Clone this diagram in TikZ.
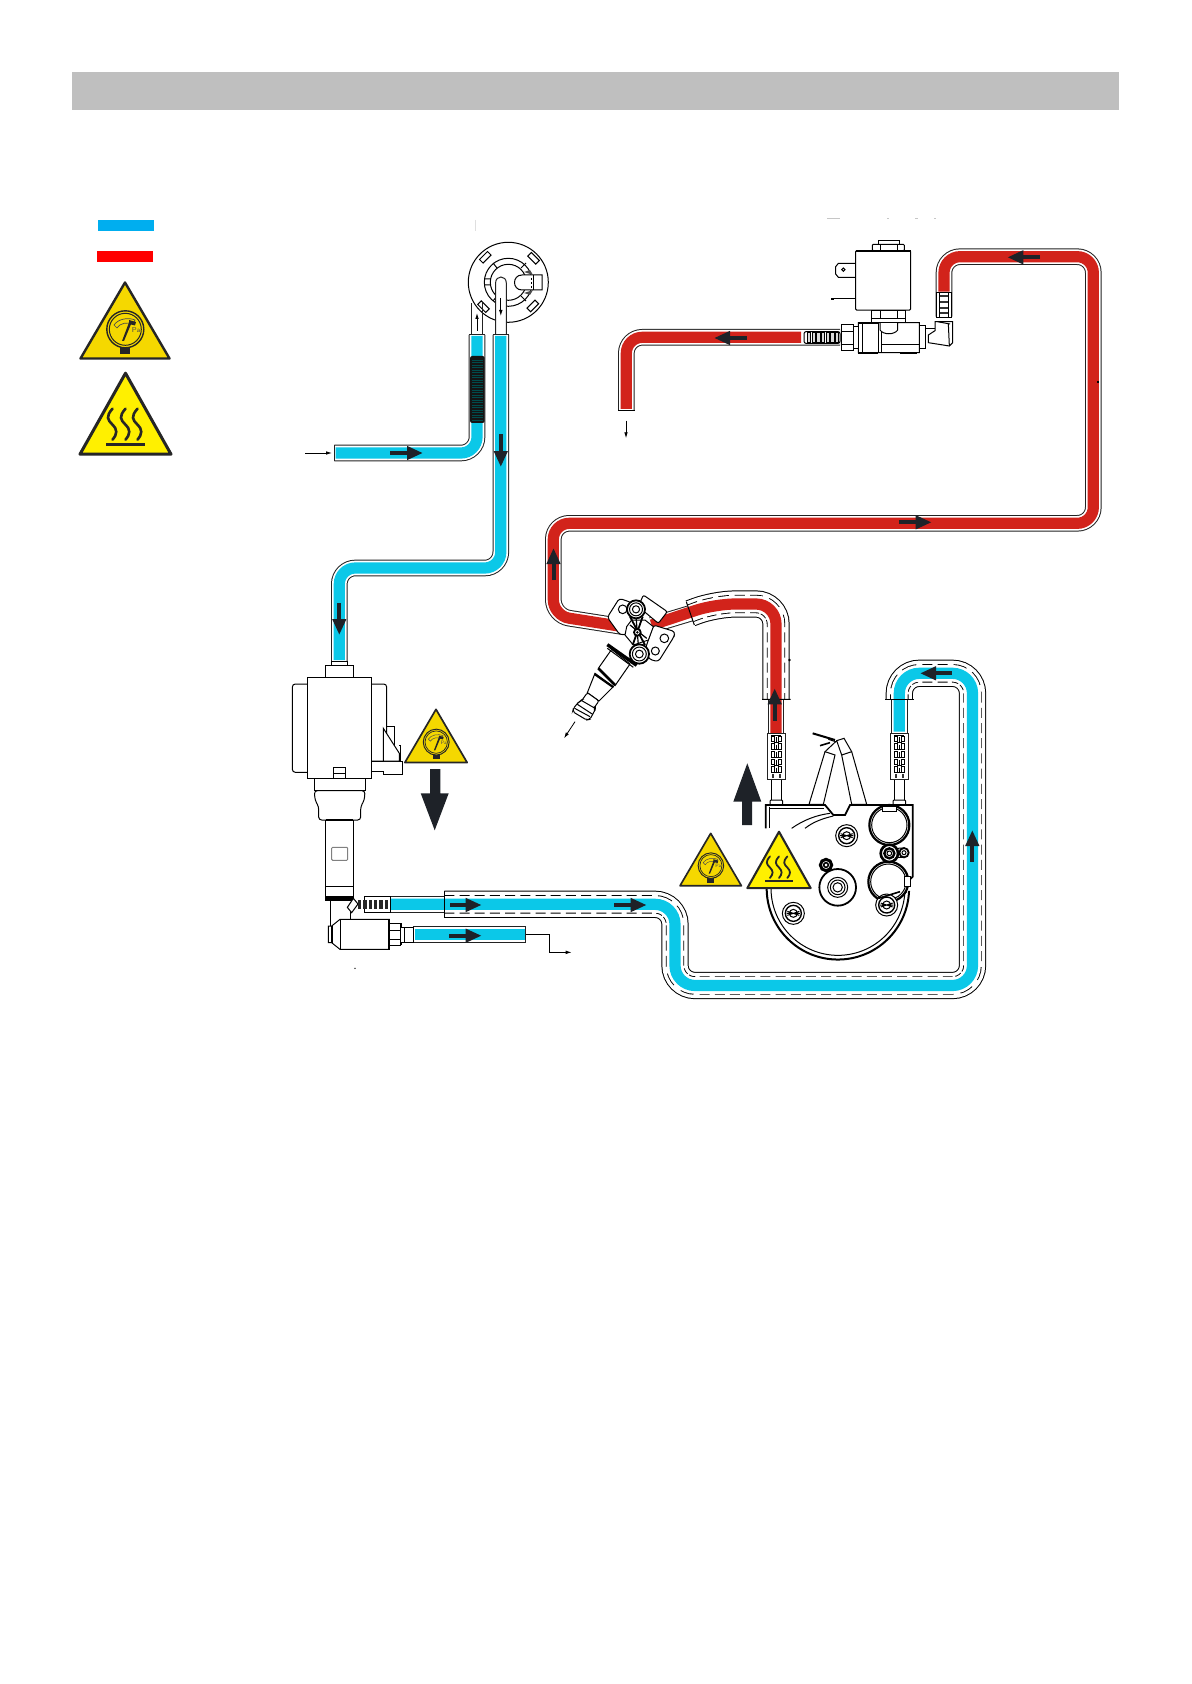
\documentclass[tikz,border=0pt]{standalone}
\usetikzlibrary{arrows.meta}
\definecolor{barg}{HTML}{BFBFBF}
\definecolor{legblue}{HTML}{00AEEF}
\definecolor{legred}{HTML}{FF0000}
\definecolor{pipeblue}{HTML}{0BC8E8}
\definecolor{pipered}{HTML}{D2231B}
\definecolor{gaugey}{HTML}{F5D800}
\definecolor{heaty}{HTML}{FFF000}
\definecolor{dark}{HTML}{1E2228}
\definecolor{lineg}{HTML}{222222}
\tikzset{
 zoomscope/.style={shift={#1},x=0.16667pt,y=-0.16667pt},
 thinl/.style={draw=black,line width=0.5pt},
 thick2/.style={draw=black,line width=0.9pt},
 whitefill/.style={fill=white},
 flow/.style={draw=dark,fill=dark,line width=2pt,-{Triangle[length=8pt,width=6.5pt]}},
 tiny arrow/.style={draw=black,line width=0.4pt,-{Latex[length=3pt,width=1.8pt]}},
}
\newcommand\hosebody[2]{%
 \draw[rounded corners=#1,draw=lineg,line width=8.3pt] #2;
 \draw[rounded corners=#1,draw=white,line width=7.3pt] #2;}
\newcommand\sleevebody[2]{%
 \draw[rounded corners=#1,draw=black,line width=13.6pt] #2;
 \draw[rounded corners=#1,draw=white,line width=12.6pt] #2;
 \draw[rounded corners=#1,draw=black,line width=9.2pt,dash pattern=on 5pt off 2.6pt] #2;
 \draw[rounded corners=#1,draw=white,line width=8.3pt] #2;}
\newcommand\corepath[3]{\draw[rounded corners=#2,draw=#1,line width=5.6pt] #3;}
\newcommand\gaugesign[3]{%
 \begin{scope}[shift={(#1,#2)},x=#3*0.5pt,y=-#3*0.5pt]
 \draw[fill=gaugey,draw=black!85,line width=#3*1.2pt,line join=round] (0,1.5)--(44.5,77.5)--(-44.5,77.5)--cycle;
 \fill[black!85] (-5,65) rectangle (5,73);
 \draw[fill=gaugey,draw=black!85,line width=#3*0.7pt] (0.3,48.3) circle[radius=18.5];
 \draw[draw=black!85,line width=#3*0.5pt] (0.3,48.3) circle[radius=16];
 \draw[draw=black!70,line width=#3*0.35pt] (-11,44) .. controls (-7,38) and (3,36) .. (10,39) -- (8,43) .. controls (2,41) and (-5,42) .. (-8,47) -- cycle;
 \fill[black!85] (-3,60) -- (-1,60) -- (6.5,42) -- (4,41.5) -- cycle;
 \fill[black!85] (4,39) -- (11,41) -- (10,44.5) -- (4,43) -- cycle;
 \node[inner sep=0pt,text=black!70,font=\sffamily\fontsize{3.6}{4}\selectfont,scale=#3] (pa#1) at (11,49) {Pa};
 \end{scope}}
\newcommand\heatsign[3]{%
 \begin{scope}[shift={(#1,#2)},x=#3*0.5pt,y=-#3*0.5pt]
 \draw[fill=heaty,draw=black!85,line width=#3*1.5pt,line join=round] (0,1.5)--(45.5,82.5)--(-45.5,82.5)--cycle;
 \fill[black!85] (-19.5,71.5) rectangle (19.5,74.5);
 \foreach \wx in {-13,0,12}{
  \draw[black!85,line width=#3*1.3pt,line cap=round] (\wx,37) .. controls (\wx-7,45) and (\wx-5,48) .. (\wx,53) .. controls (\wx+5,58) and (\wx+5,62) .. (\wx,68);
 }
 \end{scope}}
\begin{document}
\begin{tikzpicture}[x=0.5pt,y=-0.5pt]
\useasboundingbox (0,0) rectangle (1191,1684);
\fill[white] (0,0) rectangle (1191,1684);
% header
\fill[barg] (72,72) rectangle (1119,110);
% legend
\fill[legblue] (97.9,220) rectangle (154,231);
\fill[legred] (96.8,251) rectangle (153,262);
\gaugesign{125}{281}{1}
\heatsign{125.5}{371.7}{1}
% faint remnants
\draw[gray!45,line width=0.4pt] (827,218)--(840,218) (887,218)--(889,218) (915,218)--(918,218) (934,218)--(936,218);
\draw[gray!25,line width=0.3pt] (475,220)--(475,231);
% ---- inlet unit (circle)
\draw[thinl,whitefill] (508.3,282.3) circle[radius=40];
\draw[thinl] (508.3,282.3) circle[radius=24];
\draw[thinl] (508.3,282.3) circle[radius=18];
\foreach \ux/\uy in {485.3/257.3,532.8/306}{
 \draw[thinl,shift={(\ux,\uy)}] (5.8,-2.2)--(2.2,-5.8)--(-5.8,2.2)--(-2.2,5.8)--cycle;}
\foreach \ux/\uy in {533.5/258.3,483.5/306.7}{
 \draw[thinl,shift={(\ux,\uy)}] (5.8,2.2)--(2.2,5.8)--(-5.8,-2.2)--(-2.2,-5.8)--cycle;}
\draw[thinl] (484.5,279)--(490.5,279) (484.5,285)--(490.5,285) (493,263)--(497,268) (521,268)--(526,263) (521,296)--(526,301) (493,301)--(497,296);
\draw[thinl,whitefill] (533,275) -- (542,275) -- (542,290) -- (533,290) -- (522,290) .. controls (512,290) and (512,275) .. (522,275) -- cycle;
\draw[thinl] (533,275)--(533,290);
\draw[black,line width=0.5pt,dash pattern=on 0.8pt off 1.2pt] (531,278)--(531,288);
\fill[black!70] (524,272)--(530,270)--(533,275)--cycle (524,293)--(530,295)--(533,290)--cycle;
% thin tubes
\draw[draw=lineg,line width=0.5pt] (471.5,335)--(471.5,303) (482.5,303)--(482.5,335);
\draw[draw=lineg,line width=0.5pt,fill=white] (495.6,335)--(495.6,283) .. controls (495.6,275) and (506.3,275) .. (506.3,283) -- (506.3,335);
\draw[tiny arrow] (477,331)--(477,313);
\draw[tiny arrow] (500.8,298)--(500.8,316);
% inlet hose
\hosebody{8pt}{(334.4,453)--(477,453)--(477,335)}
\corepath{pipeblue}{8pt}{(335.5,453)--(477,453)--(477,336)}
\draw[draw=lineg,line width=0.5pt] (334.4,445)--(334.4,461) (469,335)--(485,335);
\fill[black!92,rounded corners=1pt] (470.1,356) rectangle (484.6,423);
\foreach \ry in {360,362.5,...,420}{\draw[teal!60!black,line width=0.2pt] (472,\ry)--(483,\ry);}
% pipe 2
\hosebody{8pt}{(500.8,335)--(500.8,568)--(339.3,568)--(339.3,661.7)}
\corepath{pipeblue}{8pt}{(500.8,336)--(500.8,568)--(339.3,568)--(339.3,660)}
\draw[draw=lineg,line width=0.5pt] (492.8,335)--(508.8,335);
% ---- red outlet
\hosebody{8pt}{(626.3,411)--(626.3,337.3)--(840,337.3)}
\corepath{pipered}{8pt}{(626.3,409)--(626.3,337.3)--(801,337.3)}
\draw[thinl] (618,411)--(634.5,411);
% ---- red long
\hosebody{8pt}{(944,316.7)--(944,256.7)--(1093.3,256.7)--(1093.3,523.3)--(553.3,523.3)--(553.3,615.7)--(623.3,626.7)}
\corepath{pipered}{8pt}{(944,291.7)--(944,256.7)--(1093.3,256.7)--(1093.3,523.3)--(553.3,523.3)--(553.3,615.7)--(623.3,626.7)}
\fill[black] (1097,381) rectangle (1099,383);
% ---- red from boiler
\hosebody{1pt}{(651.7,625)--(690.5,613.3)}
\hosebody{1pt}{(776,699.3)--(776,779.3)}
\sleevebody{10pt}{(690.5,613.3)--(715,604)--(776,604)--(776,699.3)}
\corepath{pipered}{10pt}{(651.7,625)--(715,604)--(776,604)--(776,733)}
\draw[thinl] (686.3,601.7)--(694.3,625) (762,699.3)--(790.5,699.3);
\fill[black] (789.5,660) circle[radius=1.4];
% ---- blue sleeve loop
\hosebody{1pt}{(364,904.3)--(444.3,904.3)}
\hosebody{1pt}{(899.3,699.3)--(899.3,779.3)}
\sleevebody{10pt}{(444.3,904.3)--(675,904.3)--(675,985.5)--(972.5,985.5)--(972.5,673.3)--(899.3,673.3)--(899.3,699.3)}
\corepath{pipeblue}{10pt}{(390.7,904.3)--(675,904.3)--(675,985.5)--(972.5,985.5)--(972.5,673.3)--(899.3,673.3)--(899.3,731.7)}
\draw[thinl] (444.3,891)--(444.3,917.5) (885,699.3)--(913.5,699.3);
% ---- outlet small blue
\hosebody{0.5pt}{(413.3,934.7)--(525.7,934.7)}
\corepath{pipeblue}{0.5pt}{(414.5,934.7)--(524.7,934.7)}
\draw[draw=lineg,line width=0.5pt] (413.3,926.7)--(413.3,942.7) (525.7,926.7)--(525.7,942.7);
% ---- pump
\begin{scope}[zoomscope={(270,650)}]
 \draw[thinl,whitefill] (185,35) rectangle (232,47);
 \draw[thinl,whitefill] (167,47) rectangle (250,83);
 \draw[thinl,whitefill,rounded corners=1.5pt] (112,102)--(67,102)--(67,367)--(112,367);
 \draw[thinl,whitefill,rounded corners=1.5pt] (304,102)--(350,102)--(350,333)--(304,333);
 \draw[thinl,whitefill] (304,333)--(398,333)--(398,372)--(340,372)--(340,365)--(304,365)--cycle;
 \draw[thinl] (350,228)--(372,228)--(372,310);
 \draw[thinl,whitefill] (340,235)--(388,310)--(388,333)--(340,333)--cycle;
 \draw[thinl] (392,285)--(392,333) (387,285)--(392,285);
 \draw[thinl,whitefill] (133,385) rectangle (285,422);
 \draw[thinl,whitefill] (112,83) rectangle (304,385);
 \draw[thinl] (190,385)--(190,352)--(227,352)--(227,385) (190,370)--(227,370);
 \draw[thinl,whitefill,rounded corners=1.5pt] (133,422)--(135,450)--(146,470)--(146,510)--(272,510)--(272,470)--(283,450)--(285,422)--cycle;
 \draw[thinl,whitefill] (167,510) rectangle (250,750);
 \draw[thick2] (167,510)--(250,510);
 \draw[draw=gray,line width=0.5pt,rounded corners=0.5pt] (185,592) rectangle (233,631);
 \draw[thinl] (167,708)--(250,708);
 \fill[black] (167,738) rectangle (250,750);
 \draw[thinl] (180,750)--(180,830) (240,780)--(240,810);
 % fitting
 \draw[thinl,whitefill] (232,772)--(250,745)--(264,762)--(245,788)--cycle;
 \draw[thinl,whitefill] (282,740) rectangle (360,787);
 \foreach \bx in {264,280,296,312,328,344}{\fill[black!85] (\bx,750) rectangle ++(10,28);}
 % elbow body
 \draw[thinl,whitefill] (210,808)--(358,808)--(358,898)--(210,898)--(185,878)--(175,878)--(175,828)--(185,828)--cycle;
 \draw[thick2] (358,808)--(358,898) (185,828)--(185,878);
 \draw[thinl] (210,808)--(210,898);
 \draw[thinl,whitefill] (358,820) rectangle (392,885);
 \draw[thinl] (358,840)--(392,840) (358,868)--(392,868);
 \draw[thick2] (392,820)--(392,885);
 \draw[thinl,whitefill] (392,832) rectangle (403,876);
 \draw[thinl,whitefill] (403,832) rectangle (430,876);
 % drain line
 \draw[thinl] (767,853)--(838,853)--(838,907);
 \draw[tiny arrow] (838,907)--(905,907);
 \fill[black] (255,955) circle[radius=2];
\end{scope}
% ---- solenoid
\begin{scope}[zoomscope={(600,200)}]
 \draw[thinl,whitefill] (835,122) rectangle (897,133);
 \draw[thinl,whitefill,rounded corners=0.5pt] (817,133) rectangle (913,152);
 \draw[thinl] (840,133)--(840,152) (893,133)--(893,152);
 \draw[thinl,whitefill] (767,190)--(715,190)--(707,200)--(707,222)--(715,232)--(767,232);
 \draw[thinl] (730,209) circle[radius=5];
 \draw[thinl] (700,296)--(767,296);
 \fill[black] (692,294) rectangle (702,299);
 \draw[thinl,whitefill,rounded corners=0.5pt] (767,152) rectangle (932,330);
 \draw[thick2] (767,152)--(932,152);
 \draw[thinl,whitefill] (815,330) rectangle (917,368);
 \draw[thinl] (840,330)--(840,355) (893,330)--(893,355) (815,355)--(917,355);
 % valve body
 \draw[thinl,whitefill] (775,368)--(840,368)--(840,390).. controls (850,405) and (883,405) .. (893,390)--(893,368)--(958,368)--(958,458)--(775,458)--cycle;
 \draw[thinl] (788,368)--(788,458) (835,368)--(835,458) (845,395)--(845,458) (845,432)--(958,432);
 \draw[thick2] (775,368)--(835,368) (775,458)--(835,458) (900,458)--(950,458);
 \draw[thinl,whitefill] (760,380) rectangle (775,445);
 \draw[thinl,whitefill] (725,372) rectangle (760,452);
 \draw[thinl] (725,395)--(760,395) (725,432)--(760,432);
 \draw[thinl,whitefill] (958,375) rectangle (975,445);
 \draw[thinl] (975,385)--(1005,385);
 % elbow fitting
 \fill[white] (1005,353) rectangle (1058,438);
 \draw[thinl,whitefill] (1005,365)--(1058,365)--(1058,428)--(1048,438)--(985,428)--(985,405)--(1005,392)--cycle;
 \draw[thinl] (1012,365)--(1050,372) (1045,372)--(1048,438);
 % spring left
 \draw[thinl,whitefill,rounded corners=1pt] (612,395) rectangle (720,430);
 \foreach \sx in {622,636,650,664,678,692,706}{\draw[thinl,fill=black!15] (\sx,398) rectangle ++(10,29);}
 % spring right
 \draw[thinl,whitefill] (1010,278) rectangle (1053,352);
 \foreach \sy in {285,303,320,335}{\fill[black!80] (1018,\sy) rectangle ++(28,6);}
 \draw[thinl] (1018,280)--(1018,350) (1046,280)--(1046,350);
 \draw[thinl] (1008,352)--(1055,352);
\end{scope}
% ---- injector valve
\begin{scope}[zoomscope={(530,570)}]
 \draw[thinl,whitefill,rounded corners=1pt] (340,75)--(412,125)--(385,160)--(325,110)--cycle;
 \draw[thinl,whitefill,rounded corners=1.5pt] (232,142)--(268,85)--(305,98)--(305,190)--(270,195)--cycle;
 \draw[thinl,whitefill,rounded corners=1.5pt] (435,185)--(432,200)--(385,275)--(358,268)--(345,240)--(370,165)--cycle;
 \draw[thinl,whitefill] (278,118) circle[radius=13];
 \draw[thinl,whitefill] (403,205) circle[radius=13];
 \draw[thinl,whitefill] (376,243) circle[radius=12];
 % nozzle
 \draw[thinl,whitefill] (245,238)--(205,295)--(255,347)--(300,282)--cycle;
 \draw[thinl,whitefill] (195,310)--(172,368)--(207,393)--(250,350)--cycle;
 \draw[black,line width=1.7pt] (232,224)--(320,286);
 \draw[thinl] (232,235)--(310,292);
 \draw[black,line width=1.4pt] (205,295)--(255,345);
 \draw[black,line width=1pt] (193,312)--(250,352);
 \draw[thinl,whitefill,rounded corners=1pt] (172,368)--(207,393)--(193,412)--(196,418)--(180,448)--(170,450)--(128,425)--(130,415)--(147,395)--(155,392)--cycle;
 \draw[thinl] (152,390)--(197,416) (142,403)--(188,433) (134,415)--(180,440);
 \draw[tiny arrow] (135,455)--(102,505);
 % body
 \draw[thinl,whitefill] (290,170)--(305,150)--(345,150)--(370,170)--(355,210)--(310,225)--(285,195)--cycle;
 \draw[black,line width=0.9pt] (300,140)--(345,225) (338,140)--(308,225);
 \draw[black,line width=0.6pt] (318,140)--(325,225) (300,165)--(350,205);
 \foreach \cx/\cy/\rr in {318/118/27,328/252/29}{
  \draw[thick2,whitefill] (\cx,\cy) circle[radius=\rr];
  \draw[thinl] (\cx,\cy) circle[radius=\rr*0.72];
  \draw[thinl] (\cx,\cy) circle[radius=\rr*0.4];
 }
 \draw[thick2,whitefill] (322,187) circle[radius=10];
 \fill[black] (322,187) circle[radius=4];
\end{scope}
% ---- boiler
\begin{scope}[zoomscope={(670,650)}]
 \foreach \hx in {303,672}{
  \draw[thinl,whitefill] (\hx,388)--(\hx,450) (\hx+32,388)--(\hx+32,450);
  \draw[thinl,whitefill,rounded corners=0.5pt] (\hx-3,450) rectangle (\hx+35,465);
  \draw[draw=lineg,line width=0.5pt,fill=white] (\hx-11,250) rectangle (\hx+43,388);
  \draw[black,line width=0.5pt] (\hx,256)--(\hx+30,256);
  \foreach \sy in {258,281,304,327,350}{
   \draw[black,line width=0.45pt] (\hx+1,\sy) rectangle ++(8,17);
   \draw[black,line width=0.45pt] (\hx+23,\sy) rectangle ++(8,17);
   \draw[black,line width=0.45pt] (\hx+16,\sy+3) -- ++(0,14);
   \draw[black,line width=0.45pt] (\hx+9,\sy+18)--(\hx+23,\sy+18);}
  \fill[black!80] (\hx+2,372) rectangle (\hx+9,385);
  \fill[black!80] (\hx+23,372) rectangle (\hx+30,385);
 }
 % electrodes
 \draw[thinl,whitefill] (417,463)--(465,305)--(495,315)--(460,463)--cycle;
 \draw[thinl,whitefill] (515,315)--(545,305)--(590,463)--(545,463)--cycle;
 \draw[thinl] (465,305)--(497,275)--(475,268) (545,305)--(522,265)--(500,272)--(515,315);
 \draw[black,line width=1pt] (428,250)--(495,270);
 \draw[black,line width=0.8pt] (450,287)--(480,278);
 % outline
 \draw[black,line width=0.9pt] (287,535)--(287,465)--(465,465)--(490,495)--(525,495)--(540,465)--(728,465)--(728,680)--(718,690);
 \draw[thinl] (298,470)--(298,535) (298,475)--(462,475);
 \draw[thinl] (365,535) .. controls (400,510) and (440,495) .. (480,490);
 \draw[thinl] (405,535) .. controls (430,515) and (460,505) .. (490,498);
 \draw[black,line width=1pt] (290,715) arc[start angle=180,end angle=358,radius=35.6pt];
 \draw[thinl] (303,715) arc[start angle=180,end angle=355,radius=33.5pt];
 % round housings
 \foreach \cx/\cy in {658/525,655/695}{
  \draw[black,line width=1.1pt,whitefill] (\cx,\cy) circle[radius=60];
  \draw[thinl] (\cx,\cy) circle[radius=53];
 }
 \draw[thinl,whitefill] (637,470) rectangle (680,485);
 \draw[black,line width=1.3pt,whitefill] (658,610) circle[radius=26];
 \draw[black,line width=1.2pt] (658,610) circle[radius=15];
 \draw[thinl] (658,610) circle[radius=7];
 \draw[black,line width=0.9pt,whitefill] (702,608) circle[radius=14];
 \draw[thinl] (702,608) circle[radius=6];
 \draw[thinl] (680,595)--(702,594) (680,622)--(702,622);
 \draw[thinl,whitefill] (703,680) rectangle (720,708);
 % bolts
 \foreach \bx/\by in {530/557,370/790,650/765}{
  \draw[thinl,whitefill] (\bx,\by) circle[radius=33];
  \draw[black,line width=0.7pt] (\bx,\by) circle[radius=24];
  \draw[thinl] (\bx,\by) circle[radius=12];
  \draw[black,line width=0.5pt] (\bx-18,\by+6)--(\bx+18,\by-6) (\bx-18,\by-6)--(\bx+18,\by+6) (\bx-20,\by)--(\bx+20,\by);
 }
 \draw[black,line width=0.8pt] (625,745)--(690,725);
 \draw[thinl] (690,745) -- (710,725);
 % centre
 \draw[thick2,whitefill] (503,712) circle[radius=55];
 \draw[thinl] (503,712) circle[radius=30];
 \draw[thinl] (503,712) circle[radius=22];
 \draw[thinl] (503,712) circle[radius=14];
 \draw[black,line width=1.5pt,whitefill] (468,645) circle[radius=17];
 \draw[black,line width=0.8pt] (468,645) circle[radius=7];
\end{scope}
% ---- signs
\gaugesign{436}{708.3}{0.7}
\gaugesign{710.7}{832.3}{0.69}
\heatsign{779}{830.7}{0.695}
% big arrows
\fill[dark] (430,769)--(440.3,769)--(440.3,793.3)--(448.7,793.3)--(434.7,830.3)--(420.7,793.3)--(430,793.3)--cycle;
\fill[dark] (742,825)--(752,825)--(752,801.7)--(761.3,801.7)--(747.3,763.3)--(733.3,801.7)--(742,801.7)--cycle;
% flow arrows
\draw[flow] (390,453)--(423,453);
\draw[flow] (500.8,434)--(500.8,467);
\draw[flow] (339.3,603)--(339.3,635);
\draw[flow] (553.5,580)--(553.5,548);
\draw[flow] (1040,257.3)--(1007.3,257.3);
\draw[flow] (746.7,338)--(714,338);
\draw[flow] (899,522.3)--(931.7,522.3);
\draw[flow] (774.7,720.7)--(774.7,688.3);
\draw[flow] (951.7,673.3)--(920,673.3);
\draw[flow] (972.3,861.7)--(972.3,830);
\draw[flow] (450,905)--(481.7,905);
\draw[flow] (614,905)--(646.7,905);
\draw[flow] (449,935.7)--(481.7,935.7);
\draw[tiny arrow] (305,453)--(332,453);
\draw[tiny arrow] (626,420.7)--(626,438.3);
\end{tikzpicture}
\end{document}
